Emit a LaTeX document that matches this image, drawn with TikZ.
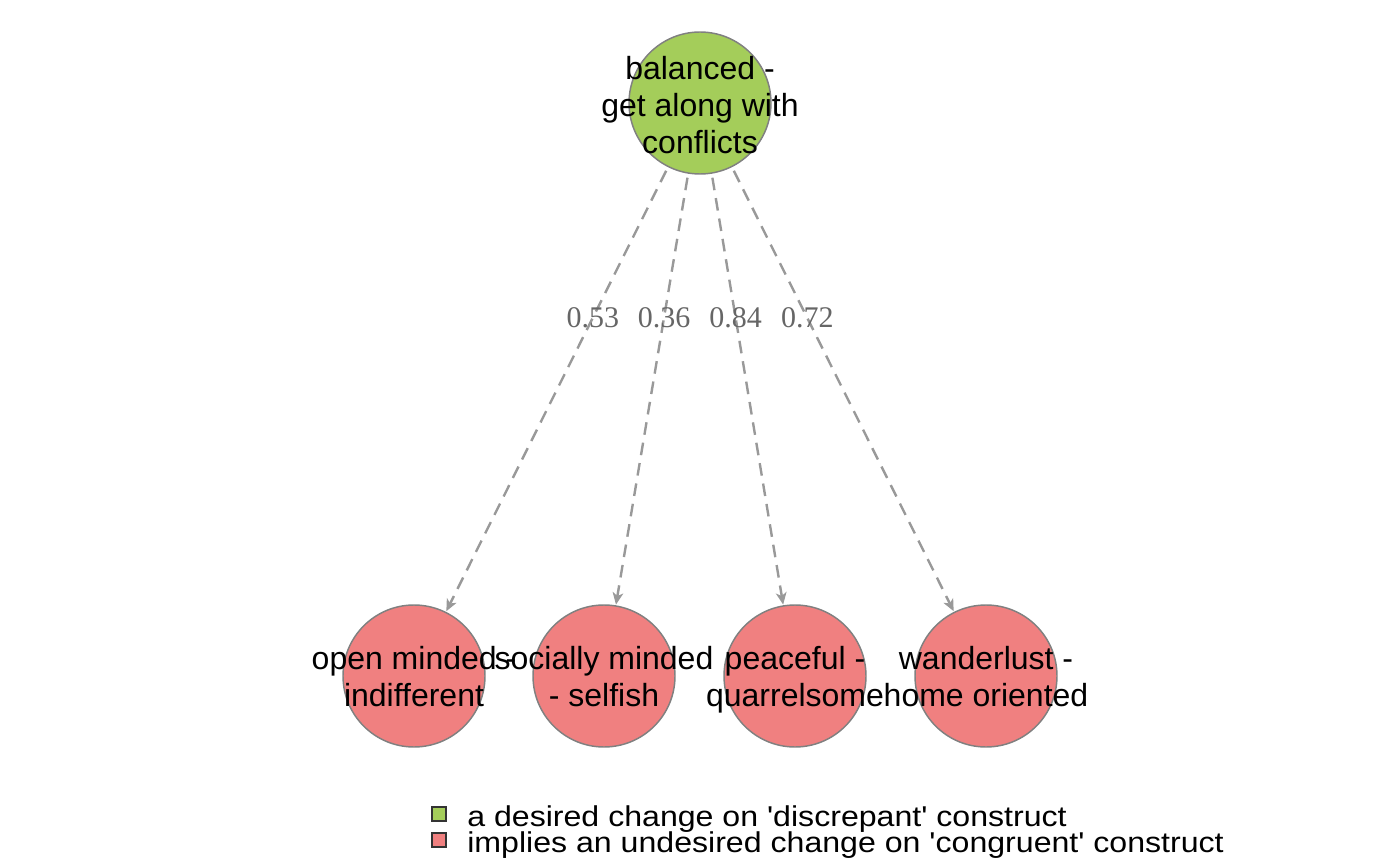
\documentclass[tikz,border=0pt]{standalone}
\usepackage{fontspec}
\setmainfont{Liberation Serif}
\setsansfont{Liberation Sans}
\newfontfamily\keyfont{Liberation Sans}[Ligatures=TeXOff]
\usetikzlibrary{arrows.meta,calc}
\definecolor{desired}{RGB}{164,205,90}
\definecolor{undesired}{RGB}{240,128,128}
\definecolor{rim}{RGB}{128,128,128}
\definecolor{edgegray}{RGB}{153,153,153}
\definecolor{labelgray}{RGB}{102,102,102}
\tikzset{
  construct/.style={circle, draw=rim, line width=1.1pt, minimum size=106.5pt, inner sep=0pt},
  goodnode/.style={construct, fill=desired},
  badnode/.style={construct, fill=undesired},
  ctext/.style={font=\sffamily\fontsize{24}{27.75}\selectfont, align=center, inner sep=0pt, text=black},
  implies/.style={draw=edgegray, line width=1.8pt, dash pattern=on 9.5pt off 6pt,
    -{Stealth[length=9pt,width=8pt,inset=2.5pt]}, shorten <=3pt, shorten >=0.5pt},
  elabel/.style={font=\fontsize{22.5}{24}\selectfont, text=labelgray, inner sep=0pt},
  keybox/.style={draw=black!80, line width=0.9pt, minimum size=10.5pt, inner sep=0pt},
  keytext/.style={font=\keyfont\fontsize{21.5}{22}\selectfont, anchor=base west, inner sep=0pt, xscale=1.12, transform shape}
}
\begin{document}
\begin{tikzpicture}[x=0.75pt, y=-0.75pt]
\useasboundingbox (0,0) rectangle (1400,866);

% constructs
\node[goodnode] (top) at (700,103) {};
\node[badnode] (b1) at (414,676) {};
\node[badnode] (b2) at (604,676) {};
\node[badnode] (b3) at (795,676) {};
\node[badnode] (b4) at (986,676) {};

% implications
\draw[implies] (top) -- (b1);
\draw[implies] (top) -- (b2);
\draw[implies] (top) -- (b3);
\draw[implies] (top) -- (b4);

% edge weights
\node[elabel] (w1) at ($(top)!0.375!(b1)$) {0.53};
\node[elabel] (w2) at ($(top)!0.375!(b2)$) {0.36};
\node[elabel] (w3) at ($(top)!0.375!(b3)$) {0.84};
\node[elabel] (w4) at ($(top)!0.375!(b4)$) {0.72};

% construct names
\node[ctext] (ttop) at (700,105) {balanced -\\get along with\\conflicts};
\node[ctext] (tb1) at (414,681) {open minded -\strut\\indifferent\strut};
\node[ctext] (tb2) at (604,681) {socially minded\strut\\- selfish\strut};
\node[ctext] (tb3) at (795,681) {peaceful -\strut\\quarrelsome\strut};
\node[ctext] (tb4) at (986,681) {wanderlust -\strut\\home oriented\strut};

% legend
\node[keybox, fill=desired] (k1) at (439,814) {};
\node[keybox, fill=undesired] (k2) at (439,840) {};
\node[keytext] (kt1) at (467,826) {a desired change on 'discrepant' construct};
\node[keytext] (kt2) at (467,852) {implies an undesired change on 'congruent' construct};
\end{tikzpicture}
\end{document}
